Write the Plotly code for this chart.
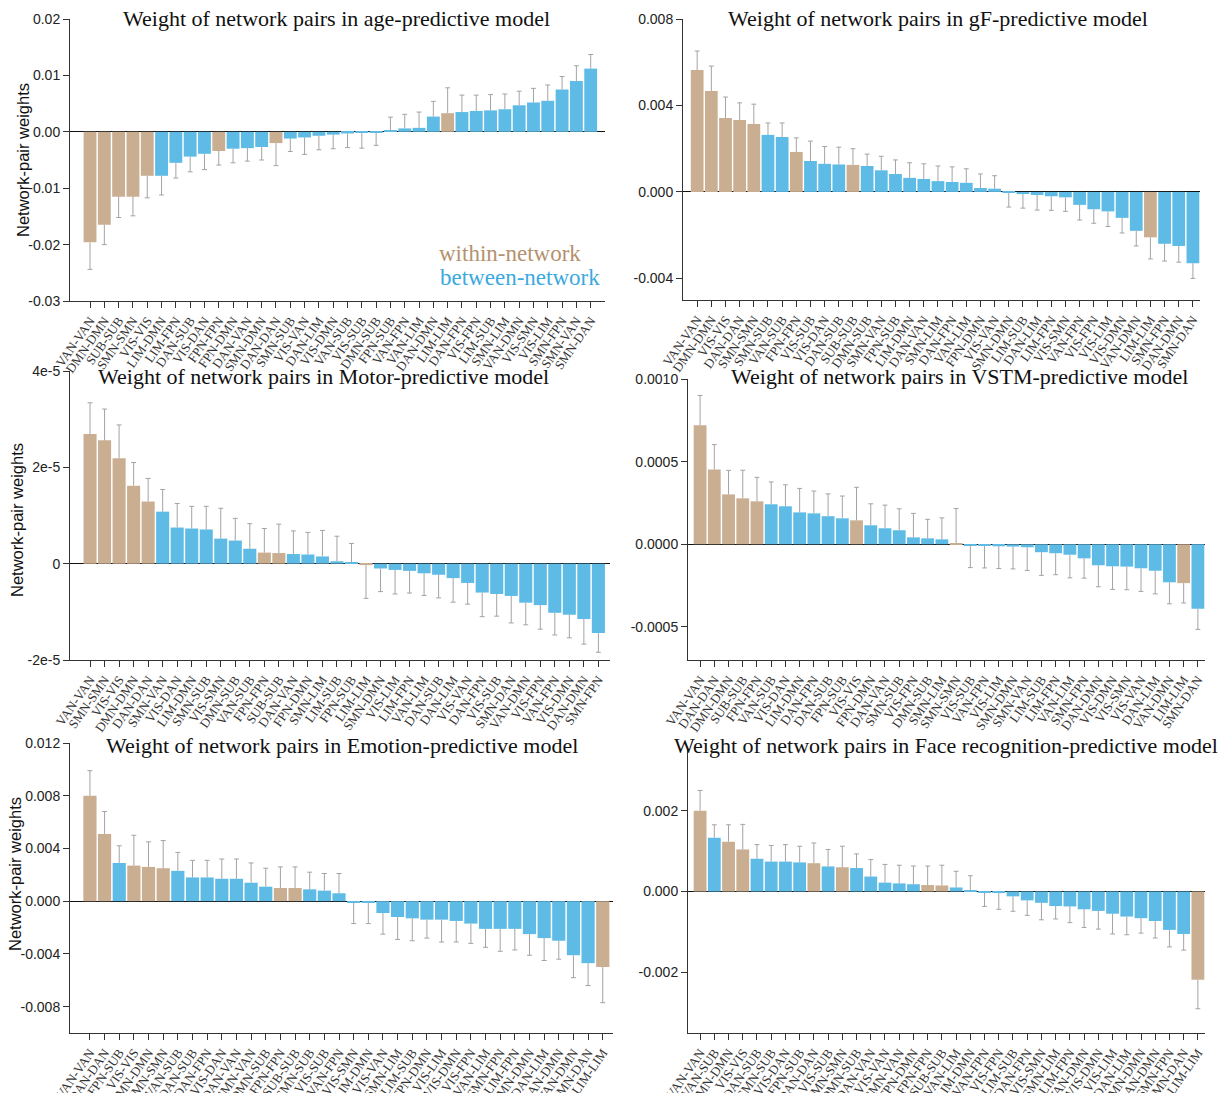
import plotly.graph_objects as go

# ---------------------------------------------------------------- data
age_pairs = ["VAN-VAN", "DMN-DMN", "SUB-SUB", "SMN-SMN", "VIS-VIS", "LIM-DMN", "LIM-FPN", "DAN-SUB",
             "VIS-DAN", "FPN-FPN", "FPN-DMN", "DAN-VAN", "SMN-DMN", "DAN-DAN", "SMN-SUB", "VIS-VAN",
             "DAN-LIM", "VIS-DMN", "VAN-SUB", "VIS-SUB", "DMN-SUB", "FPN-SUB", "VAN-FPN", "VAN-LIM",
             "DAN-DMN", "LIM-LIM", "DAN-FPN", "VIS-FPN", "LIM-SUB", "SMN-LIM", "VAN-DMN", "VIS-SMN",
             "VIS-LIM", "SMN-FPN", "SMN-VAN", "SMN-DAN"]
age_vals = [-0.0196, -0.0165, -0.0115, -0.0115, -0.0078, -0.0078, -0.0055, -0.0044, -0.0039, -0.0034,
            -0.0030, -0.0029, -0.0027, -0.0020, -0.0012, -0.0010, -0.0007, -0.0005, -0.0003, -0.0002,
            -0.0001, 0.0002, 0.0006, 0.0007, 0.0027, 0.0033, 0.0035, 0.0037, 0.0038, 0.0040,
            0.0047, 0.0052, 0.0055, 0.0075, 0.0090, 0.0112]
age_err = [0.0048, 0.0035, 0.0037, 0.0034, 0.0039, 0.0034, 0.0027, 0.0027, 0.0028, 0.0025,
           0.0025, 0.0023, 0.0023, 0.0040, 0.0023, 0.0030, 0.0025, 0.0025, 0.0025, 0.0027,
           0.0023, 0.0024, 0.0025, 0.0028, 0.0027, 0.0045, 0.0030, 0.0028, 0.0028, 0.0027,
           0.0025, 0.0025, 0.0028, 0.0023, 0.0027, 0.0025]

gf_pairs = ["VAN-VAN", "DMN-DMN", "VIS-VIS", "DAN-DAN", "SMN-SMN", "SMN-SUB", "VAN-SUB", "FPN-FPN",
            "VIS-SUB", "VIS-DAN", "DAN-SUB", "SUB-SUB", "DMN-SUB", "SMN-VAN", "FPN-SUB", "LIM-DMN",
            "DAN-VAN", "SMN-LIM", "DAN-FPN", "VAN-LIM", "FPN-DMN", "VIS-VAN", "SMN-DMN", "LIM-SUB",
            "DAN-LIM", "LIM-FPN", "VIS-SMN", "VAN-FPN", "VIS-FPN", "VIS-LIM", "VIS-DMN", "VAN-DMN",
            "LIM-LIM", "SMN-FPN", "DAN-DMN", "SMN-DAN"]
gf_vals = [0.00564, 0.00467, 0.00342, 0.00333, 0.00314, 0.00264, 0.00254, 0.00185, 0.00143, 0.00130,
           0.00127, 0.00125, 0.00120, 0.00100, 0.00083, 0.00065, 0.00060, 0.00050, 0.00046, 0.00042,
           0.00018, 0.00015, -0.00005, -0.00010, -0.00014, -0.00020, -0.00025, -0.00060, -0.00080,
           -0.00090, -0.00120, -0.00180, -0.00210, -0.00240, -0.00250, -0.00330]
gf_err = [0.00088, 0.00115, 0.00097, 0.00079, 0.00092, 0.00055, 0.00065, 0.00065, 0.00092, 0.00080,
          0.00080, 0.00075, 0.00055, 0.00065, 0.00065, 0.00070, 0.00070, 0.00070, 0.00070, 0.00065,
          0.00065, 0.00060, 0.00065, 0.00065, 0.00070, 0.00065, 0.00065, 0.00070, 0.00065, 0.00070,
          0.00070, 0.00070, 0.00100, 0.00080, 0.00075, 0.00070]

motor_pairs = ["VAN-VAN", "SMN-SMN", "VIS-VIS", "DMN-DMN", "DAN-DAN", "SMN-VAN", "VIS-DAN", "LIM-DMN",
               "SMN-SUB", "VIS-SMN", "DMN-SUB", "VAN-SUB", "FPN-FPN", "SUB-SUB", "DAN-VAN", "FPN-DMN",
               "SMN-LIM", "LIM-SUB", "FPN-SUB", "LIM-LIM", "SMN-DMN", "VIS-LIM", "LIM-FPN", "VAN-LIM",
               "DAN-SUB", "DAN-LIM", "VIS-VAN", "DAN-FPN", "VIS-SUB", "SMN-DAN", "VAN-DMN", "VIS-FPN",
               "VAN-FPN", "VIS-DMN", "DAN-DMN", "SMN-FPN"]
motor_vals = [2.69e-5, 2.56e-5, 2.19e-5, 1.62e-5, 1.29e-5, 1.08e-5, 0.75e-5, 0.73e-5, 0.71e-5, 0.52e-5,
              0.48e-5, 0.31e-5, 0.23e-5, 0.22e-5, 0.20e-5, 0.19e-5, 0.15e-5, 0.05e-5, 0.02e-5, -0.03e-5,
              -0.10e-5, -0.13e-5, -0.15e-5, -0.20e-5, -0.23e-5, -0.30e-5, -0.40e-5, -0.60e-5, -0.63e-5,
              -0.67e-5, -0.81e-5, -0.86e-5, -1.02e-5, -1.06e-5, -1.15e-5, -1.44e-5]
motor_err = [0.65e-5, 0.65e-5, 0.69e-5, 0.48e-5, 0.48e-5, 0.46e-5, 0.50e-5, 0.46e-5, 0.48e-5, 0.63e-5,
             0.46e-5, 0.52e-5, 0.50e-5, 0.60e-5, 0.48e-5, 0.46e-5, 0.54e-5, 0.52e-5, 0.40e-5, 0.69e-5,
             0.48e-5, 0.50e-5, 0.46e-5, 0.46e-5, 0.48e-5, 0.50e-5, 0.44e-5, 0.50e-5, 0.46e-5, 0.56e-5,
             0.46e-5, 0.50e-5, 0.46e-5, 0.48e-5, 0.52e-5, 0.40e-5]

vstm_pairs = ["VAN-VAN", "DAN-DAN", "DMN-DMN", "SUB-SUB", "FPN-FPN", "VAN-SUB", "VIS-DAN", "LIM-DMN",
              "DAN-FPN", "DAN-SUB", "FPN-SUB", "VIS-VIS", "FPN-DMN", "DAN-VAN", "SMN-SUB", "VIS-FPN",
              "DMN-SUB", "SMN-LIM", "SMN-SMN", "VIS-SUB", "VAN-FPN", "VIS-LIM", "SMN-DMN", "SMN-VAN",
              "LIM-SUB", "LIM-FPN", "VAN-LIM", "SMN-FPN", "DAN-DMN", "VIS-DMN", "VIS-SMN", "VIS-VAN",
              "DAN-LIM", "VAN-DMN", "LIM-LIM", "SMN-DAN"]
vstm_vals = [7.20e-4, 4.53e-4, 3.02e-4, 2.78e-4, 2.60e-4, 2.42e-4, 2.30e-4, 1.93e-4, 1.87e-4, 1.70e-4,
             1.57e-4, 1.45e-4, 1.15e-4, 0.97e-4, 0.85e-4, 0.42e-4, 0.36e-4, 0.30e-4, 0.06e-4, -0.06e-4,
             -0.08e-4, -0.12e-4, -0.14e-4, -0.18e-4, -0.48e-4, -0.54e-4, -0.63e-4, -0.85e-4, -1.27e-4,
             -1.33e-4, -1.35e-4, -1.45e-4, -1.60e-4, -2.30e-4, -2.35e-4, -3.90e-4]
vstm_err = [1.80e-4, 1.50e-4, 1.45e-4, 1.70e-4, 1.45e-4, 1.35e-4, 1.30e-4, 1.45e-4, 1.35e-4, 1.35e-4,
            1.35e-4, 2.00e-4, 1.30e-4, 1.40e-4, 1.30e-4, 1.45e-4, 1.15e-4, 1.30e-4, 2.10e-4, 1.35e-4,
            1.35e-4, 1.35e-4, 1.35e-4, 1.40e-4, 1.40e-4, 1.30e-4, 1.40e-4, 1.20e-4, 1.30e-4, 1.40e-4,
            1.40e-4, 1.40e-4, 1.40e-4, 1.30e-4, 1.20e-4, 1.25e-4]

emo_pairs = ["VAN-VAN", "DAN-DAN", "FPN-SUB", "VIS-VIS", "DMN-DMN", "SMN-SMN", "VAN-SUB", "DAN-SUB",
             "DAN-FPN", "VIS-DAN", "DAN-VAN", "SMN-VAN", "DMN-SUB", "FPN-FPN", "SUB-SUB", "SMN-SUB",
             "VIS-SUB", "VAN-FPN", "VIS-SMN", "LIM-DMN", "VIS-VAN", "SMN-LIM", "LIM-SUB", "FPN-DMN",
             "VIS-LIM", "VIS-DMN", "VIS-FPN", "VAN-LIM", "SMN-FPN", "LIM-FPN", "SMN-DMN", "DAN-LIM",
             "DAN-DMN", "VAN-DMN", "SMN-DAN", "LIM-LIM"]
emo_vals = [0.0080, 0.0051, 0.0029, 0.0027, 0.0026, 0.0025, 0.0023, 0.0018, 0.0018, 0.0017,
            0.0017, 0.0014, 0.0011, 0.0010, 0.0010, 0.0009, 0.0008, 0.0006, -0.0001, -0.0001,
            -0.0009, -0.0012, -0.0013, -0.0014, -0.0014, -0.0015, -0.0017, -0.0021, -0.0021, -0.0021,
            -0.0025, -0.0028, -0.0030, -0.0041, -0.0047, -0.0050]
emo_err = [0.0019, 0.0017, 0.0013, 0.0023, 0.0019, 0.0021, 0.0014, 0.0013, 0.0013, 0.0015,
           0.0015, 0.0015, 0.0014, 0.0016, 0.0016, 0.0013, 0.0013, 0.0015, 0.0016, 0.0016,
           0.0016, 0.0017, 0.0017, 0.0014, 0.0017, 0.0016, 0.0015, 0.0014, 0.0017, 0.0016,
           0.0016, 0.0017, 0.0014, 0.0017, 0.0017, 0.0027]

face_pairs = ["VAN-VAN", "VAN-SUB", "DMN-DMN", "VIS-VIS", "DAN-SUB", "SMN-SUB", "VIS-DAN", "FPN-SUB",
              "DAN-DAN", "VIS-SUB", "SMN-SMN", "DMN-SUB", "DAN-VAN", "VIS-VAN", "SMN-VAN", "FPN-DMN",
              "FPN-FPN", "SUB-SUB", "VAN-LIM", "LIM-DMN", "VAN-FPN", "VIS-FPN", "LIM-SUB", "DAN-FPN",
              "VIS-SMN", "SMN-LIM", "LIM-FPN", "VAN-DMN", "VIS-DMN", "VIS-LIM", "DAN-LIM", "SMN-DMN",
              "DAN-DMN", "SMN-FPN", "SMN-DAN", "LIM-LIM"]
face_vals = [0.00200, 0.00133, 0.00123, 0.00104, 0.00081, 0.00074, 0.00074, 0.00072, 0.00070, 0.00062,
             0.00060, 0.00058, 0.00037, 0.00022, 0.00020, 0.00018, 0.00016, 0.00015, 0.00010, 0.00002,
             -0.00002, -0.00004, -0.00012, -0.00022, -0.00028, -0.00036, -0.00037, -0.00044, -0.00048,
             -0.00055, -0.00062, -0.00066, -0.00073, -0.00095, -0.00105, -0.00218]
face_err = [0.00050, 0.00032, 0.00042, 0.00062, 0.00035, 0.00040, 0.00042, 0.00040, 0.00050, 0.00042,
            0.00052, 0.00035, 0.00042, 0.00045, 0.00045, 0.00045, 0.00047, 0.00050, 0.00040, 0.00037,
            0.00035, 0.00040, 0.00037, 0.00037, 0.00042, 0.00032, 0.00040, 0.00045, 0.00045, 0.00050,
            0.00045, 0.00037, 0.00042, 0.00042, 0.00040, 0.00072]

# ---------------------------------------------------------------- style
W, H = 1226, 1093
TAN = "#c9ae92"
BLUE = "#5dbbe6"
ERR_COLOR = "#a3a3a3"
SERIF = "Liberation Serif, Times New Roman, serif"
SANS = "Liberation Sans, Arial, sans-serif"

# box = (left, right, top, bottom) in pixels; ylab = (x, y) centre of the axis title
panels = [
    dict(title="Weight of network pairs in age-predictive model",
         pairs=age_pairs, vals=age_vals, errs=age_err,
         yticks=[0.02, 0.01, 0.0, -0.01, -0.02, -0.03],
         ytext=["0.02", "0.01", "0.00", "-0.01", "-0.02", "-0.03"],
         yrange=[-0.03, 0.02], xrange=[-1.4, 36.0], box=(70, 605, 19, 301),
         title_at=(336, 18), ylab=(23, 160)),
    dict(title="Weight of network pairs in gF-predictive model",
         pairs=gf_pairs, vals=gf_vals, errs=gf_err,
         yticks=[0.008, 0.004, 0.0, -0.004],
         ytext=["0.008", "0.004", "0.000", "-0.004"],
         yrange=[-0.005, 0.008], xrange=[-1.0, 35.5], box=(683, 1200, 19, 300),
         title_at=(938, 18), ylab=None),
    dict(title="Weight of network pairs in Motor-predictive model",
         pairs=motor_pairs, vals=motor_vals, errs=motor_err,
         yticks=[4e-5, 2e-5, 0.0, -2e-5],
         ytext=["4e-5", "2e-5", "0", "-2e-5"],
         yrange=[-2e-5, 4e-5], xrange=[-1.38, 35.8], box=(70, 610, 371, 660),
         title_at=(323, 377), ylab=(17, 520)),
    dict(title="Weight of network pairs in VSTM-predictive model",
         pairs=vstm_pairs, vals=vstm_vals, errs=vstm_err,
         yticks=[0.001, 0.0005, 0.0, -0.0005],
         ytext=["0.0010", "0.0005", "0.0000", "-0.0005"],
         yrange=[-0.0007, 0.001], xrange=[-0.85, 35.5], box=(688, 1205, 379, 660),
         title_at=(959, 377), ylab=None),
    dict(title="Weight of network pairs in Emotion-predictive model",
         pairs=emo_pairs, vals=emo_vals, errs=emo_err,
         yticks=[0.012, 0.008, 0.004, 0.0, -0.004, -0.008],
         ytext=["0.012", "0.008", "0.004", "0.000", "-0.004", "-0.008"],
         yrange=[-0.01, 0.012], xrange=[-1.36, 35.7], box=(70, 613, 743, 1033),
         title_at=(342, 745), ylab=(15, 874)),
    dict(title="Weight of network pairs in Face recognition-predictive model",
         pairs=face_pairs, vals=face_vals, errs=face_err,
         yticks=[0.002, 0.0, -0.002],
         ytext=["0.002", "0.000", "-0.002"],
         yrange=[-0.0035, 0.0035], xrange=[-0.85, 35.5], box=(688, 1205, 750, 1033),
         title_at=(946, 745), ylab=None),
]

fig = go.Figure()
annotations = []
CAP = 0.17  # half width of error-bar caps, in category units

for i, p in enumerate(panels, start=1):
    sfx = "" if i == 1 else str(i)
    xa, ya = "x" + sfx, "y" + sfx
    idx = list(range(len(p["pairs"])))
    colors = [TAN if a.split("-")[0] == a.split("-")[1] else BLUE for a in p["pairs"]]

    fig.add_trace(go.Bar(x=idx, y=p["vals"], marker=dict(color=colors, line=dict(width=0)),
                         xaxis=xa, yaxis=ya, showlegend=False, hoverinfo="skip"))

    # one-sided error bars pointing away from zero
    ex, ey = [], []
    for k, v, e in zip(idx, p["vals"], p["errs"]):
        tip = v + e if v >= 0 else v - e
        ex += [k, k, None, k - CAP, k + CAP, None]
        ey += [v, tip, None, tip, tip, None]
    fig.add_trace(go.Scatter(x=ex, y=ey, mode="lines", line=dict(color=ERR_COLOR, width=1),
                             xaxis=xa, yaxis=ya, showlegend=False, hoverinfo="skip"))

    l, r, t, b = p["box"]
    fig.update_layout(**{
        "xaxis" + sfx: dict(domain=[l / W, r / W], anchor=ya, range=p["xrange"],
                            tickmode="array", tickvals=idx, ticktext=p["pairs"], tickangle=-55,
                            ticks="outside", ticklen=6, tickcolor="#333", showline=True,
                            linecolor="#333", linewidth=1, showgrid=False, zeroline=False,
                            tickfont=dict(family=SERIF, size=13, color="#333"), automargin=False),
        "yaxis" + sfx: dict(domain=[1 - b / H, 1 - t / H], anchor=xa, range=p["yrange"],
                            tickmode="array", tickvals=p["yticks"], ticktext=p["ytext"],
                            ticks="outside", ticklen=6, tickcolor="#333", showline=True,
                            linecolor="#333", linewidth=1, showgrid=False, zeroline=True,
                            zerolinecolor="#111", zerolinewidth=1.3,
                            tickfont=dict(family=SANS, size=14, color="#222"), automargin=False),
    })

    tx, ty = p["title_at"]
    annotations.append(dict(text=p["title"], x=tx / W, y=1 - ty / H, xref="paper", yref="paper",
                            xanchor="center", yanchor="middle", showarrow=False,
                            font=dict(family=SERIF, size=22, color="#111")))
    if p["ylab"]:
        lx, ly = p["ylab"]
        annotations.append(dict(text="Network-pair weights", x=lx / W, y=1 - ly / H,
                                xref="paper", yref="paper", xanchor="center", yanchor="middle",
                                textangle=-90, showarrow=False,
                                font=dict(family=SANS, size=16.5, color="#111")))

# colour key inside the age panel
annotations.append(dict(text="within-network", x=510 / W, y=1 - 254 / H, xref="paper", yref="paper",
                        xanchor="center", yanchor="middle", showarrow=False,
                        font=dict(family=SERIF, size=23, color="#b4926f")))
annotations.append(dict(text="between-network", x=520 / W, y=1 - 277 / H, xref="paper", yref="paper",
                        xanchor="center", yanchor="middle", showarrow=False,
                        font=dict(family=SERIF, size=23, color="#3ba9e0")))

fig.update_layout(width=W, height=H, margin=dict(l=0, r=0, t=0, b=0),
                  paper_bgcolor="white", plot_bgcolor="white", bargap=0.1,
                  annotations=annotations)

fig.write_html("out.html")
